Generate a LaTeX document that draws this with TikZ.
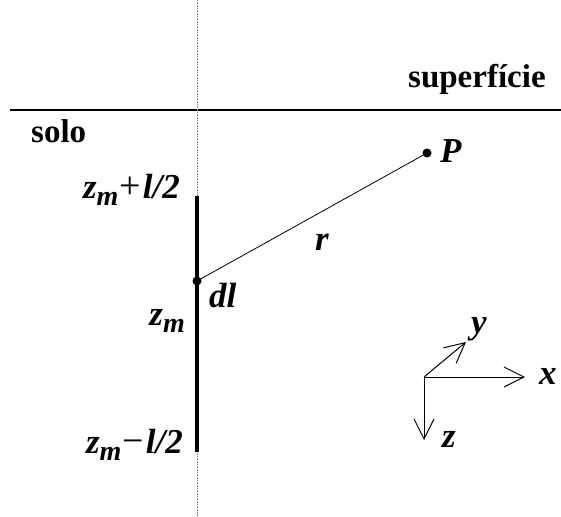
\documentclass[tikz,border=0pt]{standalone}
\usepackage{fontspec}
\setmainfont{Liberation Serif}
\usetikzlibrary{arrows.meta}
\newcommand\subm{\raisebox{-0.22em}{\fontsize{28}{28}\selectfont m}}
\newcommand\opsign[1]{{\upshape\mdseries\fontsize{38}{40}\selectfont\hspace{1pt}#1\hspace{2pt}}}
\begin{document}
\begin{tikzpicture}[x=1pt,y=-1pt,
  lbl/.style={inner sep=0pt,font=\fontsize{33}{38}\selectfont\bfseries},
  ilbl/.style={inner sep=0pt,font=\fontsize{35}{40}\selectfont\bfseries\itshape},
  axis/.style={line width=1pt,-{Straight Barb[length=20pt,width=20pt,line width=1pt]}},
  dotpt/.style={circle,fill=black,inner sep=0pt,minimum size=9pt}]
\useasboundingbox (0,0) rectangle (561,516);
% surface
\coordinate (sl) at (10,110);
\coordinate (sr) at (561,110);
\draw[line width=1.4pt] (sl) -- (sr);
% vertical dotted axis
\coordinate (vt) at (197,0);
\coordinate (vb) at (197,516);
\draw[gray,line width=0.6pt,densely dotted] (vt) -- (vb);
% conductor
\coordinate (ct) at (197,196);
\coordinate (cb) at (197,452);
\draw[line width=3.2pt] (ct) -- (cb);
% points
\node[dotpt] (dl) at (197,281) {};
\node[dotpt] (P) at (427,153) {};
\draw[line width=0.8pt] (dl.center) -- (P.center);
% labels
\node[lbl,anchor=base west] (sup) at (408,88) {superfície};
\node[lbl,anchor=base west] (solo) at (31,142) {solo};
\node[ilbl,anchor=base west] (Pl) at (440,162) {P};
\node[ilbl,anchor=base] (rl) at (322,250) {r};
\node[ilbl,anchor=base west] (dll) at (209,307) {dl};
\node[ilbl,anchor=base east] (zt) at (180,198) {z\subm\opsign{+}l/2};
\node[ilbl,anchor=base east] (zmid) at (185,325) {z\subm};
\node[ilbl,anchor=base east] (zb) at (183,453) {z\subm\opsign{−}l/2};
% axes
\coordinate (O) at (424,377);
\coordinate (xe) at (525,377);
\coordinate (ye) at (466,342);
\coordinate (ze) at (424,440);
\draw[axis] (O) -- (xe);
\draw[axis] (O) -- (ye);
\draw[axis] (O) -- (ze);
\node[ilbl,anchor=base west] (xl) at (539,384) {x};
\node[ilbl,anchor=base west] (yl) at (471,333) {y};
\node[ilbl,anchor=base west] (zl) at (442,447) {z};
\end{tikzpicture}
\end{document}
